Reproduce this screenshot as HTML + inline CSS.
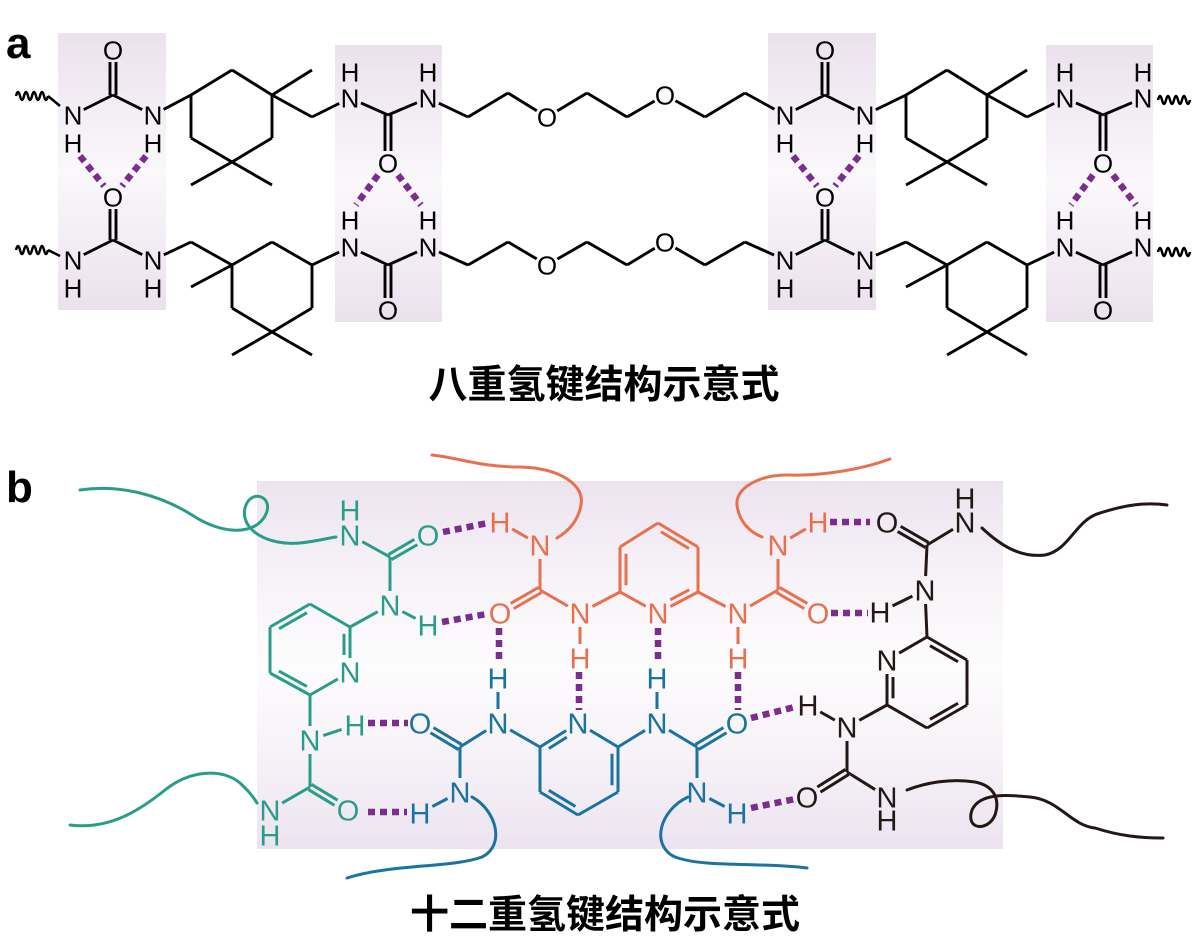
<!DOCTYPE html>
<html><head><meta charset="utf-8"><style>
html,body{margin:0;padding:0;background:#fff;}
svg{display:block;}
</style></head><body>
<svg id="s" xmlns="http://www.w3.org/2000/svg" width="1199" height="941" viewBox="0 0 1199 941">
<defs>
<linearGradient id="g" x1="0" y1="0" x2="0" y2="1">
<stop offset="0" stop-color="#ebe1ed"/><stop offset="0.5" stop-color="#faf8fb"/><stop offset="1" stop-color="#ebe1ed"/>
</linearGradient>
<linearGradient id="g2" x1="0" y1="0" x2="0" y2="1">
<stop offset="0" stop-color="#ece3ef"/><stop offset="0.25" stop-color="#f6f2f7"/><stop offset="0.5" stop-color="#fdfcfd"/><stop offset="0.75" stop-color="#f6f2f7"/><stop offset="1" stop-color="#ece3ef"/>
</linearGradient>
</defs>
<rect x="58" y="33" width="108" height="277" fill="url(#g)"/>
<rect x="335" y="45" width="107" height="277" fill="url(#g)"/>
<rect x="768" y="33" width="108" height="277" fill="url(#g)"/>
<rect x="1046" y="45" width="107" height="277" fill="url(#g)"/>
<rect x="257" y="481" width="746" height="368" fill="url(#g2)"/>
<text x="6" y="58" font-family="Liberation Sans, sans-serif" font-weight="bold" font-size="44">a</text>
<text x="6" y="502" font-family="Liberation Sans, sans-serif" font-weight="bold" font-size="44">b</text>
<text x="604" y="398" text-anchor="middle" font-family="Liberation Sans, 'Noto Sans CJK SC', sans-serif" font-weight="bold" font-size="39">八重氢键结构示意式</text>
<text x="605" y="928" text-anchor="middle" font-family="Liberation Sans, 'Noto Sans CJK SC', sans-serif" font-weight="bold" font-size="39">十二重氢键结构示意式</text>
<g id="layer"></g>
</svg>
<script>
var L=document.getElementById('layer');var NS='http://www.w3.org/2000/svg';
function el(t,a){var e=document.createElementNS(NS,t);for(var k in a)e.setAttribute(k,a[k]);L.appendChild(e);return e;}
function line(x1,y1,x2,y2,c,w,extra){var a={x1:x1,y1:y1,x2:x2,y2:y2,stroke:c,'stroke-width':w,'stroke-linecap':'butt'};if(extra)for(var k in extra)a[k]=extra[k];el('line',a);}
function mol(A,B,col,fs,rad,w){
 for(var i=0;i<B.length;i++){var b=B[i];var p=A[b[0]],q=A[b[1]];
  var x1=p[0],y1=p[1],x2=q[0],y2=q[1];var dx=x2-x1,dy=y2-y1,d=Math.sqrt(dx*dx+dy*dy);var ux=dx/d,uy=dy/d;
  if(p[2]){x1+=ux*rad;y1+=uy*rad;} if(q[2]){x2-=ux*rad;y2-=uy*rad;}
  var t=b[2]||1;
  if(t==2){var nx=-uy*3,ny=ux*3;line(x1+nx,y1+ny,x2+nx,y2+ny,col,w);line(x1-nx,y1-ny,x2-nx,y2-ny,col,w);}
  else{line(x1,y1,x2,y2,col,w);
   if(t=='r'){var cx=b[3],cy=b[4];var mx=(x1+x2)/2,my=(y1+y2)/2;var nx=-uy,ny=ux;if((cx-mx)*nx+(cy-my)*ny<0){nx=-nx;ny=-ny;}
    var o=6;var sx1=x1+ux*d*0.15,sy1=y1+uy*d*0.15,sx2=x2-ux*d*0.15,sy2=y2-uy*d*0.15;
    if(p[2]){sx1=x1+ux*3;sy1=y1+uy*3;} if(q[2]){sx2=x2-ux*3;sy2=y2-uy*3;}
    line(sx1+nx*o,sy1+ny*o,sx2+nx*o,sy2+ny*o,col,w);}
  }}
 for(var k in A){var a=A[k];if(a[2]){var t=el('text',{x:a[0],y:a[1]+fs*0.36,'text-anchor':'middle','font-family':'Liberation Sans, sans-serif','font-size':fs,fill:col});t.textContent=a[2];}}
}
function dash(x1,y1,x2,y2){line(x1,y1,x2,y2,'#7b2d8e',6.5,{'stroke-dasharray':'7,5'});}
function wavy(x,y,n,col){var d='M'+x+','+y;for(var i=0;i<n;i++){d+=' q2,-8 4,0 q2,8 4,0';}el('path',{d:d,fill:'none',stroke:col,'stroke-width':2.5});}
function rowA(oy,top){
 var A={},B=[];
 function add(id,x,y,l){A[id]=[x,y+oy,l||''];}
 if(top){
  add('O1',113,50,'O');add('C1',113,95);add('N1',73,115,'N');add('H1',73,143,'H');add('N2',153,115,'N');add('H2',153,143,'H');
  add('R1',191,95);add('R2',232,70);add('R3',272,95);add('R4',272,138);add('R5',232,162);add('R6',191,138);
  add('M1',312,70);add('M2',191,185);add('M3',272,185);add('K',312,117);
  add('N3',350,98,'N');add('H3',350,72,'H');add('C2',388,115);add('O2',388,163,'O');add('N4',428,98,'N');add('H4',428,72,'H');
  B=[['O1','C1',2],['C1','N1'],['C1','N2'],['N2','R1'],['R1','R2'],['R2','R3'],['R3','R4'],['R4','R5'],['R5','R6'],['R6','R1'],
     ['R3','M1'],['R5','M2'],['R5','M3'],['R3','K'],['K','N3'],['N3','C2'],['C2','O2',2],['C2','N4']];
  var ch=[['N4',428,98],['a1',468,117],['a2',508,93],['Oa',547,117,'O'],['a3',587,93],['a4',627,117],['Ob',665,95,'O'],['a5',705,117],['a6',745,93],['N5',785,115,'N']];
  for(var i=0;i<ch.length;i++){if(!A[ch[i][0]])add(ch[i][0],ch[i][1],ch[i][2],ch[i][3]);if(i>0)B.push([ch[i-1][0],ch[i][0]]);}
  add('H5',785,143,'H');add('C3',825,95);add('O3',825,50,'O');add('N6',865,115,'N');add('H6',865,143,'H');
  add('S1',906,95);add('S2',947,70);add('S3',987,95);add('S4',987,138);add('S5',947,162);add('S6',906,138);
  add('P1',1027,70);add('P2',906,185);add('P3',987,185);add('Q',1027,117);
  add('N7',1065,98,'N');add('H7',1065,72,'H');add('C4',1103,115);add('O4',1103,163,'O');add('N8',1143,98,'N');add('H8',1143,72,'H');
  B=B.concat([['N5','C3'],['C3','O3',2],['C3','N6'],['N6','S1'],['S1','S2'],['S2','S3'],['S3','S4'],['S4','S5'],['S5','S6'],['S6','S1'],
   ['S3','P1'],['S5','P2'],['S5','P3'],['S3','Q'],['Q','N7'],['N7','C4'],['C4','O4',2],['C4','N8']]);
 } else {
  add('O1',113,197,'O');add('C1',113,240);add('N1',73,260,'N');add('H1',73,288,'H');add('N2',153,260,'N');add('H2',153,288,'H');
  add('K',191,242);add('R1',232,265);add('R2',272,242);add('R3',312,265);add('R4',312,308);add('R5',272,332);add('R6',232,308);
  add('M1',191,287);add('M2',232,355);add('M3',312,355);
  add('N3',350,247,'N');add('H3',350,220,'H');add('C2',388,265);add('O2',388,310,'O');add('N4',428,247,'N');add('H4',428,220,'H');
  B=[['O1','C1',2],['C1','N1'],['C1','N2'],['N2','K'],['K','R1'],['R1','R2'],['R2','R3'],['R3','R4'],['R4','R5'],['R5','R6'],['R6','R1'],
     ['R1','M1'],['R5','M2'],['R5','M3'],['R3','N3'],['N3','C2'],['C2','O2',2],['C2','N4']];
  var ch=[['N4',428,247],['a1',468,265],['a2',508,242],['Oa',547,265,'O'],['a3',587,242],['a4',627,265],['Ob',665,242,'O'],['a5',705,265],['a6',745,242],['N5',785,260,'N']];
  for(var i=0;i<ch.length;i++){if(!A[ch[i][0]])add(ch[i][0],ch[i][1],ch[i][2],ch[i][3]);if(i>0)B.push([ch[i-1][0],ch[i][0]]);}
  add('H5',785,288,'H');add('C3',825,240);add('O3',825,197,'O');add('N6',865,260,'N');add('H6',865,288,'H');
  add('Q',906,242);add('S1',947,265);add('S2',987,242);add('S3',1027,265);add('S4',1027,308);add('S5',987,332);add('S6',947,308);
  add('P1',906,287);add('P2',947,355);add('P3',1027,355);
  add('N7',1065,247,'N');add('H7',1065,220,'H');add('C4',1103,265);add('O4',1103,310,'O');add('N8',1143,247,'N');add('H8',1143,220,'H');
  B=B.concat([['N5','C3'],['C3','O3',2],['C3','N6'],['N6','Q'],['Q','S1'],['S1','S2'],['S2','S3'],['S3','S4'],['S4','S5'],['S5','S6'],['S6','S1'],
   ['S1','P1'],['S5','P2'],['S5','P3'],['S3','N7'],['N7','C4'],['C4','O4',2],['C4','N8']]);
 }
 mol(A,B,'#000',26,12,2.9);
}
rowA(0,true);rowA(0,false);
wavy(16,96,4,'#000');line(48,96,60,106,'#000',2.5);
wavy(16,250,4,'#000');line(48,250,60,256,'#000',2.5);
wavy(1158,100,4,'#000');wavy(1158,252,4,'#000');
dash(80,156,104,186);dash(146,156,122,186);
dash(378,175,356,205);dash(398,175,421,205);
dash(793,156,817,186);dash(859,156,835,186);
dash(1093,175,1071,205);dash(1113,175,1136,205);
var T='#2a9d8a',O='#e8704f',Bl='#1a73a0',K='#231815';
var ta={H1:[350,510,'H'],N1:[350,535,'N'],C1:[390,557,''],O1:[428,535,'O'],N2:[390,605,'N'],H2:[428,625,'H'],
 r1:[310,604,''],r2:[350,627,''],rN:[350,672,'N'],r4:[310,695,''],r5:[270,673,''],r6:[270,627,''],
 N3:[310,740,'N'],H3:[355,725,'H'],C2:[310,787,''],O2:[348,810,'O'],N4:[270,810,'N'],H4:[270,835,'H']};
var tc=[310,650];
mol(ta,[['N1','C1'],['C1','O1',2],['C1','N2'],['N2','H2'],['N2','r2'],['r1','r2'],['r2','rN','r',tc[0],tc[1]],['rN','r4'],['r4','r5','r',tc[0],tc[1]],['r5','r6'],['r6','r1','r',tc[0],tc[1]],
 ['r4','N3'],['N3','H3'],['N3','C2'],['C2','O2',2],['C2','N4']],T,29,14,3);
var oa={H1:[500,522,'H'],N1:[540,545,'N'],C1:[540,590,''],O1:[500,613,'O'],N2:[580,613,'N'],H2:[580,658,'H'],
 a:[620,592,''],b:[620,547,''],c:[658,523,''],d:[698,547,''],e:[698,592,''],oN:[658,613,'N'],
 N3:[738,613,'N'],H3:[738,658,'H'],C2:[778,590,''],O2:[818,613,'O'],N4:[778,545,'N'],H4:[818,522,'H']};
var oc=[658,568];
mol(oa,[['H1','N1'],['N1','C1'],['C1','O1',2],['C1','N2'],['N2','H2'],['N2','a'],['a','b','r',oc[0],oc[1]],['b','c'],['c','d','r',oc[0],oc[1]],['d','e'],['e','oN','r',oc[0],oc[1]],['oN','a'],
 ['e','N3'],['N3','H3'],['N3','C2'],['C2','O2',2],['C2','N4'],['N4','H4']],O,29,14,3);
var ba={H1:[498,678,'H'],N1:[498,723,'N'],C1:[460,747,''],O1:[420,723,'O'],N2:[460,792,'N'],H2:[420,813,'H'],
 p:[540,747,''],bN:[578,723,'N'],q:[618,747,''],r:[618,792,''],s:[578,815,''],t:[540,792,''],
 N3:[657,723,'N'],H3:[657,678,'H'],C2:[697,747,''],O2:[737,723,'O'],N4:[697,792,'N'],H4:[737,813,'H']};
var bc=[578,769];
mol(ba,[['H1','N1'],['N1','C1'],['C1','O1',2],['C1','N2'],['N2','H2'],['N1','p'],['p','bN','r',bc[0],bc[1]],['bN','q'],['q','r','r',bc[0],bc[1]],['r','s'],['s','t','r',bc[0],bc[1]],['t','p'],
 ['q','N3'],['N3','H3'],['N3','C2'],['C2','O2',2],['C2','N4'],['N4','H4']],Bl,29,14,3);
var ka={O1:[887,522,'O'],C1:[927,545,''],N1:[965,522,'N'],H1:[965,498,'H'],N2:[925,590,'N'],H2:[880,612,'H'],
 k1:[927,637,''],k2:[967,660,''],k3:[967,705,''],k4:[927,728,''],k5:[887,705,''],kN:[887,660,'N'],
 N3:[847,727,'N'],H3:[808,705,'H'],C2:[847,772,''],O2:[807,797,'O'],N4:[887,797,'N'],H4:[887,820,'H']};
var kc=[927,682];
mol(ka,[['O1','C1',2],['C1','N1'],['C1','N2'],['N2','H2'],['N2','k1'],['k1','k2','r',kc[0],kc[1]],['k2','k3'],['k3','k4','r',kc[0],kc[1]],['k4','k5'],['k5','kN','r',kc[0],kc[1]],['kN','k1'],
 ['k5','N3'],['N3','H3'],['N3','C2'],['C2','O2',2],['C2','N4']],K,29,14,3);
dash(443,532,488,523);dash(442,622,487,614);
dash(499,628,499,664);dash(579,672,579,710);dash(658,628,658,664);dash(738,672,738,710);
dash(368,723,408,723);dash(368,812,407,812);
dash(830,522,870,522);dash(831,613,868,613);
dash(751,718,795,707);dash(751,808,795,799);
function cv(d,c){el('path',{d:d,fill:'none',stroke:c,'stroke-width':3,'stroke-linecap':'round'});}
cv('M80,490 C120,484 160,495 192,515 C222,535 256,536 266,514 C274,496 250,488 245,508 C240,530 268,546 300,543 C318,541 328,538 336,537',T);
cv('M70,825 C110,830 140,810 165,790 C190,770 222,768 240,783 C250,792 254,798 257,803',T);
cv('M432,455 C460,458 480,467 520,467 C560,468 585,485 581,505 C578,522 567,532 557,538',O);
cv('M890,459 C860,470 820,476 790,475 C760,474 735,488 737,505 C739,522 750,532 762,537',O);
cv('M472,797 C496,810 506,845 482,857 C452,868 390,864 347,878',Bl);
cv('M688,797 C660,810 650,845 675,857 C705,868 760,862 807,868',Bl);
cv('M982,528 C1000,545 1020,558 1045,555 C1070,550 1075,520 1100,513 C1125,505 1145,502 1167,505',K);
cv('M907,790 C925,783 950,778 975,782 C995,786 1000,800 995,815 C988,832 965,830 972,810 C980,792 1010,795 1030,797 C1060,800 1070,825 1095,828 C1120,836 1140,838 1163,838',K);
</script>
</body></html>
